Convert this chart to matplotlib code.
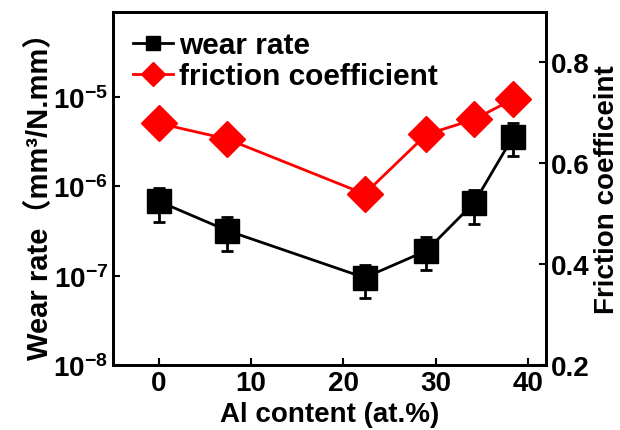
import matplotlib
matplotlib.use("Agg")
import matplotlib.pyplot as plt
from matplotlib.lines import Line2D
import numpy as np

plt.rcParams['font.family'] = ['Liberation Sans', 'Noto Sans CJK SC', 'DejaVu Sans']
plt.rcParams['font.weight'] = 'bold'
plt.rcParams['axes.labelweight'] = 'bold'
plt.rcParams['mathtext.fontset'] = 'custom'
plt.rcParams['mathtext.rm'] = 'Liberation Sans:bold'
plt.rcParams['mathtext.it'] = 'Liberation Sans:bold'
plt.rcParams['mathtext.bf'] = 'Liberation Sans:bold'

al_content = [0, 7.4, 22.3, 29, 34.2, 38.4]
wear_rate = [6.8e-7, 3.2e-7, 9.5e-8, 1.9e-7, 6.6e-7, 3.6e-6]
wear_upper = [9.7e-7, 4.6e-7, 1.3e-7, 2.7e-7, 9.1e-7, 5.2e-6]
wear_lower = [4.0e-7, 1.9e-7, 5.6e-8, 1.15e-7, 3.8e-7, 2.2e-6]
friction = [0.679, 0.648, 0.539, 0.657, 0.687, 0.727]

wear_rate = np.array(wear_rate)
yerr = [wear_rate - np.array(wear_lower), np.array(wear_upper) - wear_rate]

fig = plt.figure(figsize=(6.2, 4.31), dpi=100)
ax = fig.add_axes([0.182, 0.151, 0.699, 0.819])
ax2 = ax.twinx()

ax.errorbar(al_content, wear_rate, yerr=yerr, color='black', lw=2, marker='s',
            markersize=17, capsize=4, capthick=2, elinewidth=2)
ax2.plot(al_content, friction, color='#ff0000', lw=2, marker='D', markersize=18)

ax.set_yscale('log')
ax.set_ylim(10 ** -8, 10 ** -4.045)
ax.set_xlim(-5, 42)
ax.set_xticks([0, 10, 20, 30, 40])
ax.set_yticks([1e-8, 1e-7, 1e-6, 1e-5])
ax.minorticks_off()
ax2.set_ylim(0.2, 0.9)
ax2.set_yticks([0.2, 0.4, 0.6, 0.8])

for a in (ax, ax2):
    a.tick_params(direction='in', length=5, width=1.5, labelsize=20)
    for s in a.spines.values():
        s.set_linewidth(2)

ax.set_xlabel('Al content (at.%)', fontsize=20, labelpad=4)
ax.set_ylabel('Wear rate（mm³/N.mm）', fontsize=21, labelpad=-1)
ax2.set_ylabel('Friction coefficeint', fontsize=20, labelpad=3)

handles = [
    Line2D([], [], color='black', lw=2, marker='s', markersize=10),
    Line2D([], [], color='#ff0000', lw=2, marker='D', markersize=12),
]
ax.legend(handles, ['wear rate', 'friction coefficient'], loc='upper left',
          bbox_to_anchor=(0.046, 0.945), frameon=False, fontsize=21.5,
          handlelength=1.35, handletextpad=0.2, labelspacing=0.1,
          borderaxespad=0, borderpad=0)

fig.savefig('out.png', dpi=100)
